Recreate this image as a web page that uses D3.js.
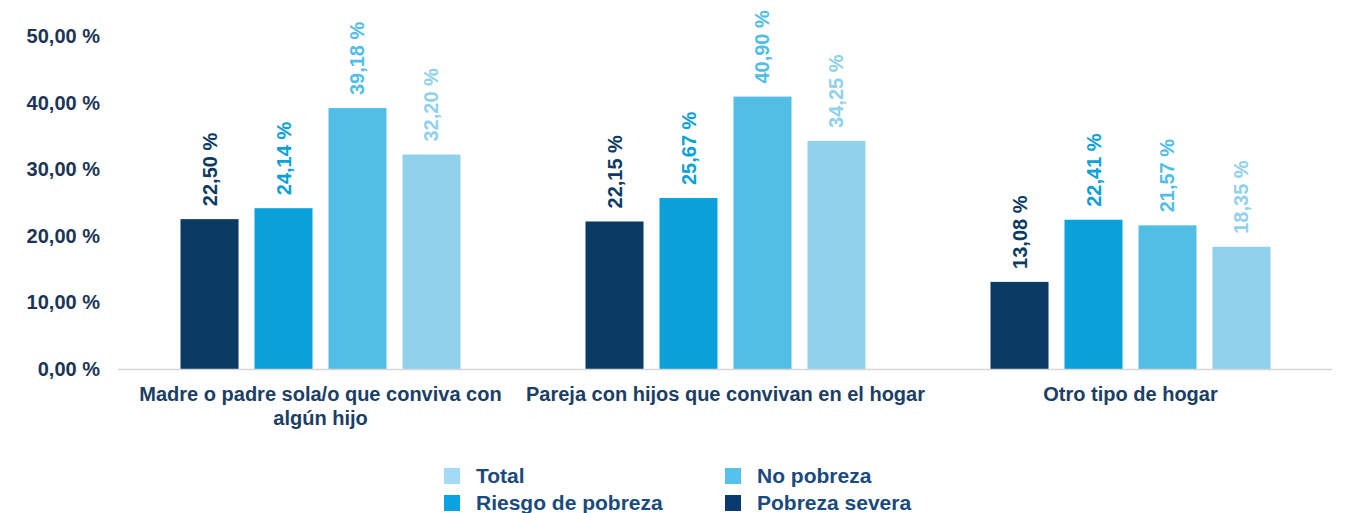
<!DOCTYPE html>
<html>
<head>
<meta charset="utf-8">
<script src="https://cdn.jsdelivr.net/npm/d3@7"></script>
<style>
  html, body { margin: 0; padding: 0; background: #ffffff; }
  svg { display: block; font-family: "Liberation Sans", Arial, sans-serif; }
</style>
</head>
<body>
<svg id="chart" width="1345" height="513"></svg>
<script>
// Household types (x categories)
const categories = [
  "Madre o padre sola/o que conviva con algún hijo",
  "Pareja con hijos que convivan en el hogar",
  "Otro tipo de hogar"
];
// Series, in the order the bars are drawn inside each group
const seriesNames = ["Pobreza severa", "Riesgo de pobreza", "No pobreza", "Total"];
// Percentages per series, one value per category
const pobrezaSevera   = [22.50, 22.15, 13.08];
const riesgoPobreza   = [24.14, 25.67, 22.41];
const noPobreza       = [39.18, 40.90, 21.57];
const total           = [32.20, 34.25, 18.35];
const yTicks = [0, 10, 20, 30, 40, 50];
// Legend order (two columns, two rows)
const legendOrder = ["Total", "No pobreza", "Riesgo de pobreza", "Pobreza severa"];

const seriesValues = {
  "Pobreza severa": pobrezaSevera,
  "Riesgo de pobreza": riesgoPobreza,
  "No pobreza": noPobreza,
  "Total": total
};
const colors = {
  "Pobreza severa": "#0b3a62",
  "Riesgo de pobreza": "#0aa0d9",
  "No pobreza": "#52bee6",
  "Total": "#90d1eb"
};
const legendColors = {
  "Pobreza severa": "#0b3a6e",
  "Riesgo de pobreza": "#0aa2e0",
  "No pobreza": "#55c2ee",
  "Total": "#a2d9f4"
};

const svg = d3.select("#chart");
const fmt = v => d3.format(".2f")(v).replace(".", ",") + " %";

const x = d3.scaleBand().domain(categories).range([118, 1333]).paddingInner(0).paddingOuter(0);
const xInner = d3.scaleBand().domain(seriesNames).range([62.5, 342.5]).paddingInner(0.216).paddingOuter(0);
const y = d3.scaleLinear().domain([0, 50]).range([369, 36]);

// Y tick labels (no axis line, no gridlines)
svg.append("g").selectAll("text").data(yTicks).join("text")
  .attr("x", 100)
  .attr("y", d => y(d))
  .attr("dy", "0.35em")
  .attr("text-anchor", "end")
  .attr("font-size", 20)
  .attr("font-weight", "bold")
  .attr("fill", "#1c3556")
  .text(d => d3.format(".2f")(d).replace(".", ",") + " %");

// Bars and rotated value labels
const rows = [];
categories.forEach((c, i) => {
  seriesNames.forEach(s => rows.push({ cat: c, series: s, value: seriesValues[s][i] }));
});

const g = svg.append("g");
g.selectAll("rect").data(rows).join("rect")
  .attr("x", d => x(d.cat) + xInner(d.series))
  .attr("y", d => y(d.value))
  .attr("width", xInner.bandwidth())
  .attr("height", d => y(0) - y(d.value))
  .attr("fill", d => colors[d.series]);

g.selectAll("text").data(rows).join("text")
  .attr("transform", d => `translate(${x(d.cat) + xInner(d.series) + xInner.bandwidth() / 2},${y(d.value) - 13}) rotate(-90)`)
  .attr("dy", "0.35em")
  .attr("text-anchor", "start")
  .attr("font-size", 20)
  .attr("font-weight", "bold")
  .attr("fill", d => colors[d.series])
  .text(d => fmt(d.value));

// Baseline
svg.append("line")
  .attr("x1", 118).attr("x2", 1332)
  .attr("y1", y(0) + 0.5).attr("y2", y(0) + 0.5)
  .attr("stroke", "#d6d6d6").attr("stroke-width", 1.5);

// Category labels, wrapped to the band width
const catText = svg.append("g").selectAll("text").data(categories).join("text")
  .attr("x", d => x(d) + x.bandwidth() / 2)
  .attr("y", 401)
  .attr("text-anchor", "middle")
  .attr("font-size", 20)
  .attr("font-weight", "bold")
  .attr("fill", "#1b3e66");

catText.each(function(d) {
  const el = d3.select(this);
  const words = d.split(" ");
  const maxW = 410;
  let line = [];
  let tspan = el.append("tspan").attr("x", x(d) + x.bandwidth() / 2).attr("dy", 0);
  words.forEach(w => {
    line.push(w);
    tspan.text(line.join(" "));
    if (tspan.node().getComputedTextLength() > maxW && line.length > 1) {
      line.pop();
      tspan.text(line.join(" "));
      line = [w];
      tspan = el.append("tspan").attr("x", x(d) + x.bandwidth() / 2).attr("dy", 24).text(w);
    }
  });
});

// Legend
const legendPos = [
  { x: 444, y: 468 }, { x: 725, y: 468 },
  { x: 444, y: 495 }, { x: 725, y: 495 }
];
const lg = svg.append("g").selectAll("g").data(legendOrder).join("g")
  .attr("transform", (d, i) => `translate(${legendPos[i].x},${legendPos[i].y})`);
lg.append("rect").attr("width", 16).attr("height", 16).attr("fill", d => legendColors[d]);
lg.append("text")
  .attr("x", 32).attr("y", 8).attr("dy", "0.35em")
  .attr("font-size", 21).attr("font-weight", "bold")
  .attr("fill", "#1a4a7e")
  .text(d => d);
</script>
</body>
</html>
